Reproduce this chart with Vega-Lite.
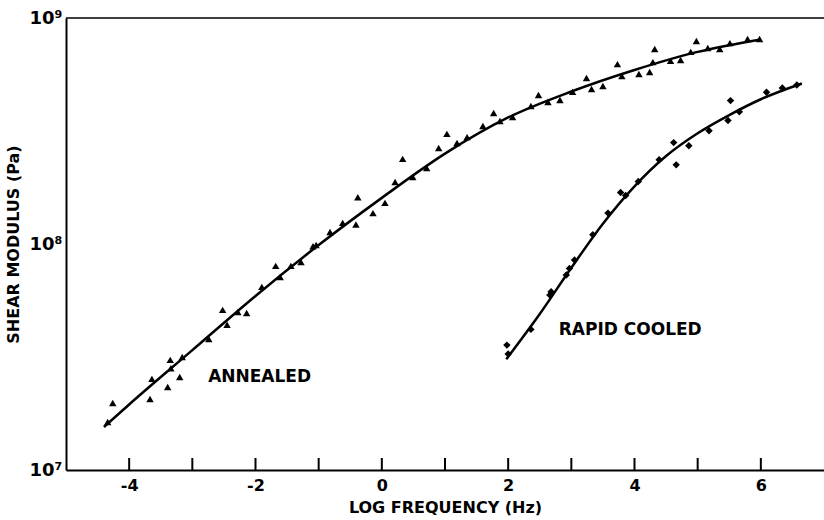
{
  "$schema": "https://vega.github.io/schema/vega-lite/v6.json",
  "width": 758,
  "height": 452,
  "autosize": "none",
  "padding": {"left": 66, "top": 18, "right": 0, "bottom": 50},
  "background": "white",
  "config": {
    "view": {"stroke": null},
    "font": "DejaVu Sans",
    "axis": {"labelFont": "DejaVu Sans", "titleFont": "DejaVu Sans", "labelColor": "black", "titleColor": "black", "domainColor": "black", "tickColor": "black", "grid": false}
  },
  "datasets": {
    "pts": [
      {"series": "annealed", "x": -4.34, "G": 1.63e7},
      {"series": "annealed", "x": -4.26, "G": 1.98e7},
      {"series": "annealed", "x": -3.67, "G": 2.06e7},
      {"series": "annealed", "x": -3.64, "G": 2.53e7},
      {"series": "annealed", "x": -3.39, "G": 2.33e7},
      {"series": "annealed", "x": -3.35, "G": 3.07e7},
      {"series": "annealed", "x": -3.34, "G": 2.82e7},
      {"series": "annealed", "x": -3.20, "G": 2.58e7},
      {"series": "annealed", "x": -3.16, "G": 3.16e7},
      {"series": "annealed", "x": -2.74, "G": 3.80e7},
      {"series": "annealed", "x": -2.52, "G": 5.11e7},
      {"series": "annealed", "x": -2.45, "G": 4.39e7},
      {"series": "annealed", "x": -2.28, "G": 5.00e7},
      {"series": "annealed", "x": -2.14, "G": 4.95e7},
      {"series": "annealed", "x": -1.90, "G": 6.46e7},
      {"series": "annealed", "x": -1.68, "G": 8.00e7},
      {"series": "annealed", "x": -1.61, "G": 7.14e7},
      {"series": "annealed", "x": -1.44, "G": 8.00e7},
      {"series": "annealed", "x": -1.28, "G": 8.32e7},
      {"series": "annealed", "x": -1.09, "G": 9.77e7},
      {"series": "annealed", "x": -1.04, "G": 9.89e7},
      {"series": "annealed", "x": -0.82, "G": 1.13e8},
      {"series": "annealed", "x": -0.62, "G": 1.24e8},
      {"series": "annealed", "x": -0.41, "G": 1.22e8},
      {"series": "annealed", "x": -0.38, "G": 1.61e8},
      {"series": "annealed", "x": -0.14, "G": 1.37e8},
      {"series": "annealed", "x": 0.05, "G": 1.52e8},
      {"series": "annealed", "x": 0.21, "G": 1.88e8},
      {"series": "annealed", "x": 0.33, "G": 2.38e8},
      {"series": "annealed", "x": 0.49, "G": 1.98e8},
      {"series": "annealed", "x": 0.71, "G": 2.17e8},
      {"series": "annealed", "x": 0.90, "G": 2.66e8},
      {"series": "annealed", "x": 1.03, "G": 3.07e8},
      {"series": "annealed", "x": 1.19, "G": 2.80e8},
      {"series": "annealed", "x": 1.35, "G": 2.97e8},
      {"series": "annealed", "x": 1.60, "G": 3.33e8},
      {"series": "annealed", "x": 1.77, "G": 3.80e8},
      {"series": "annealed", "x": 1.87, "G": 3.50e8},
      {"series": "annealed", "x": 2.07, "G": 3.65e8},
      {"series": "annealed", "x": 2.36, "G": 4.08e8},
      {"series": "annealed", "x": 2.48, "G": 4.56e8},
      {"series": "annealed", "x": 2.63, "G": 4.25e8},
      {"series": "annealed", "x": 2.82, "G": 4.34e8},
      {"series": "annealed", "x": 3.02, "G": 4.71e8},
      {"series": "annealed", "x": 3.24, "G": 5.43e8},
      {"series": "annealed", "x": 3.32, "G": 4.85e8},
      {"series": "annealed", "x": 3.50, "G": 5.00e8},
      {"series": "annealed", "x": 3.73, "G": 6.25e8},
      {"series": "annealed", "x": 3.80, "G": 5.53e8},
      {"series": "annealed", "x": 4.07, "G": 5.65e8},
      {"series": "annealed", "x": 4.24, "G": 5.77e8},
      {"series": "annealed", "x": 4.29, "G": 6.38e8},
      {"series": "annealed", "x": 4.32, "G": 7.29e8},
      {"series": "annealed", "x": 4.57, "G": 6.46e8},
      {"series": "annealed", "x": 4.73, "G": 6.52e8},
      {"series": "annealed", "x": 4.89, "G": 7.08e8},
      {"series": "annealed", "x": 4.98, "G": 7.91e8},
      {"series": "annealed", "x": 5.16, "G": 7.36e8},
      {"series": "annealed", "x": 5.35, "G": 7.29e8},
      {"series": "annealed", "x": 5.51, "G": 7.74e8},
      {"series": "annealed", "x": 5.79, "G": 8.07e8},
      {"series": "annealed", "x": 5.98, "G": 8.07e8},
      {"series": "rapid", "x": 2.00, "G": 3.26e7},
      {"series": "rapid", "x": 1.98, "G": 3.57e7},
      {"series": "rapid", "x": 2.36, "G": 4.19e7},
      {"series": "rapid", "x": 2.66, "G": 5.94e7},
      {"series": "rapid", "x": 2.68, "G": 6.15e7},
      {"series": "rapid", "x": 2.92, "G": 7.29e7},
      {"series": "rapid", "x": 2.97, "G": 7.80e7},
      {"series": "rapid", "x": 3.05, "G": 8.49e7},
      {"series": "rapid", "x": 3.34, "G": 1.10e8},
      {"series": "rapid", "x": 3.58, "G": 1.37e8},
      {"series": "rapid", "x": 3.78, "G": 1.69e8},
      {"series": "rapid", "x": 3.86, "G": 1.64e8},
      {"series": "rapid", "x": 4.06, "G": 1.89e8},
      {"series": "rapid", "x": 4.39, "G": 2.36e8},
      {"series": "rapid", "x": 4.62, "G": 2.81e8},
      {"series": "rapid", "x": 4.66, "G": 2.24e8},
      {"series": "rapid", "x": 4.86, "G": 2.72e8},
      {"series": "rapid", "x": 5.18, "G": 3.17e8},
      {"series": "rapid", "x": 5.48, "G": 3.52e8},
      {"series": "rapid", "x": 5.52, "G": 4.31e8},
      {"series": "rapid", "x": 5.66, "G": 3.85e8},
      {"series": "rapid", "x": 6.09, "G": 4.69e8},
      {"series": "rapid", "x": 6.34, "G": 4.90e8},
      {"series": "rapid", "x": 6.57, "G": 5.05e8}
    ],
    "fit": [
      {"series": "annealed", "x": -4.4, "G": 1.55e7},
      {"series": "annealed", "x": -4, "G": 1.95e7},
      {"series": "annealed", "x": -3, "G": 3.39e7},
      {"series": "annealed", "x": -2, "G": 5.89e7},
      {"series": "annealed", "x": -1, "G": 9.89e7},
      {"series": "annealed", "x": 0, "G": 1.60e8},
      {"series": "annealed", "x": 1, "G": 2.51e8},
      {"series": "annealed", "x": 2, "G": 3.63e8},
      {"series": "annealed", "x": 3, "G": 4.73e8},
      {"series": "annealed", "x": 4, "G": 5.89e8},
      {"series": "annealed", "x": 5, "G": 7.08e8},
      {"series": "annealed", "x": 6, "G": 8.04e8},
      {"series": "rapid", "x": 1.97, "G": 3.09e7},
      {"series": "rapid", "x": 2.5, "G": 4.90e7},
      {"series": "rapid", "x": 3, "G": 7.85e7},
      {"series": "rapid", "x": 3.5, "G": 1.23e8},
      {"series": "rapid", "x": 4, "G": 1.80e8},
      {"series": "rapid", "x": 4.5, "G": 2.45e8},
      {"series": "rapid", "x": 5, "G": 3.09e8},
      {"series": "rapid", "x": 5.5, "G": 3.72e8},
      {"series": "rapid", "x": 6, "G": 4.37e8},
      {"series": "rapid", "x": 6.65, "G": 5.13e8}
    ],
    "tickrows": [
      {"pos": -4, "lo": 10000000, "hi": 11300000},
      {"pos": -3, "lo": 10000000, "hi": 11300000},
      {"pos": -2, "lo": 10000000, "hi": 11300000},
      {"pos": -1, "lo": 10000000, "hi": 11300000},
      {"pos": 0, "lo": 10000000, "hi": 11300000},
      {"pos": 1, "lo": 10000000, "hi": 11300000},
      {"pos": 2, "lo": 10000000, "hi": 11300000},
      {"pos": 3, "lo": 10000000, "hi": 11300000},
      {"pos": 4, "lo": 10000000, "hi": 11300000},
      {"pos": 5, "lo": 10000000, "hi": 11300000},
      {"pos": 6, "lo": 10000000, "hi": 11300000}
    ],
    "topborder": [
      {"x0": -5, "x1": 7, "G": 1e9}
    ],
    "labels": [
      {"x": -2.75, "G": 2.57e7, "text": "ANNEALED"},
      {"x": 2.80, "G": 4.15e7, "text": "RAPID COOLED"}
    ]
  },
  "layer": [
    {
      "data": {"name": "tickrows"},
      "mark": {"type": "rule", "color": "black", "strokeWidth": 2},
      "encoding": {
        "x": {"field": "pos", "type": "quantitative", "scale": {"domain": [-5, 7], "nice": false, "zero": false},
          "axis": {"title": "LOG FREQUENCY (Hz)", "values": [-4, -2, 0, 2, 4, 6],
            "labelExpr": "toString(datum.value)",
            "ticks": false, "domainWidth": 2, "labelPadding": 7,
            "labelFontSize": 16, "labelFontWeight": "bold", "titleFontSize": 16, "titleFontWeight": "bold", "titlePadding": 6}},
        "y": {"field": "lo", "type": "quantitative", "scale": {"type": "log", "domain": [1e7, 1e9], "nice": false},
          "axis": {"title": "SHEAR MODULUS (Pa)", "values": [1e7, 1e8, 1e9],
            "labelExpr": "datum.value == 1e7 ? '10⁷' : datum.value == 1e8 ? '10⁸' : '10⁹'",
            "ticks": false, "domainWidth": 2, "labelPadding": 4,
            "labelFontSize": 18, "labelFontWeight": "bold", "titleFontSize": 16, "titleFontWeight": "bold", "titlePadding": 8}},
        "y2": {"field": "hi"}
      }
    },
    {
      "data": {"name": "topborder"},
      "mark": {"type": "rule", "color": "black", "strokeWidth": 1.5},
      "encoding": {
        "x": {"field": "x0", "type": "quantitative"},
        "x2": {"field": "x1"},
        "y": {"field": "G", "type": "quantitative"}
      }
    },
    {
      "data": {"name": "fit"},
      "mark": {"type": "line", "color": "black", "strokeWidth": 2.5, "interpolate": "monotone"},
      "encoding": {
        "x": {"field": "x", "type": "quantitative"},
        "y": {"field": "G", "type": "quantitative"},
        "detail": {"field": "series"}
      }
    },
    {
      "data": {"name": "pts"},
      "mark": {"type": "point", "filled": true, "color": "black", "opacity": 1, "size": 55},
      "encoding": {
        "x": {"field": "x", "type": "quantitative"},
        "y": {"field": "G", "type": "quantitative"},
        "shape": {"field": "series", "type": "nominal", "scale": {"domain": ["annealed", "rapid"], "range": ["triangle-up", "diamond"]}, "legend": null}
      }
    },
    {
      "data": {"name": "labels"},
      "mark": {"type": "text", "align": "left", "baseline": "middle", "fontSize": 17, "fontWeight": "bold", "font": "DejaVu Sans", "color": "black"},
      "encoding": {
        "x": {"field": "x", "type": "quantitative"},
        "y": {"field": "G", "type": "quantitative"},
        "text": {"field": "text"}
      }
    }
  ]
}
